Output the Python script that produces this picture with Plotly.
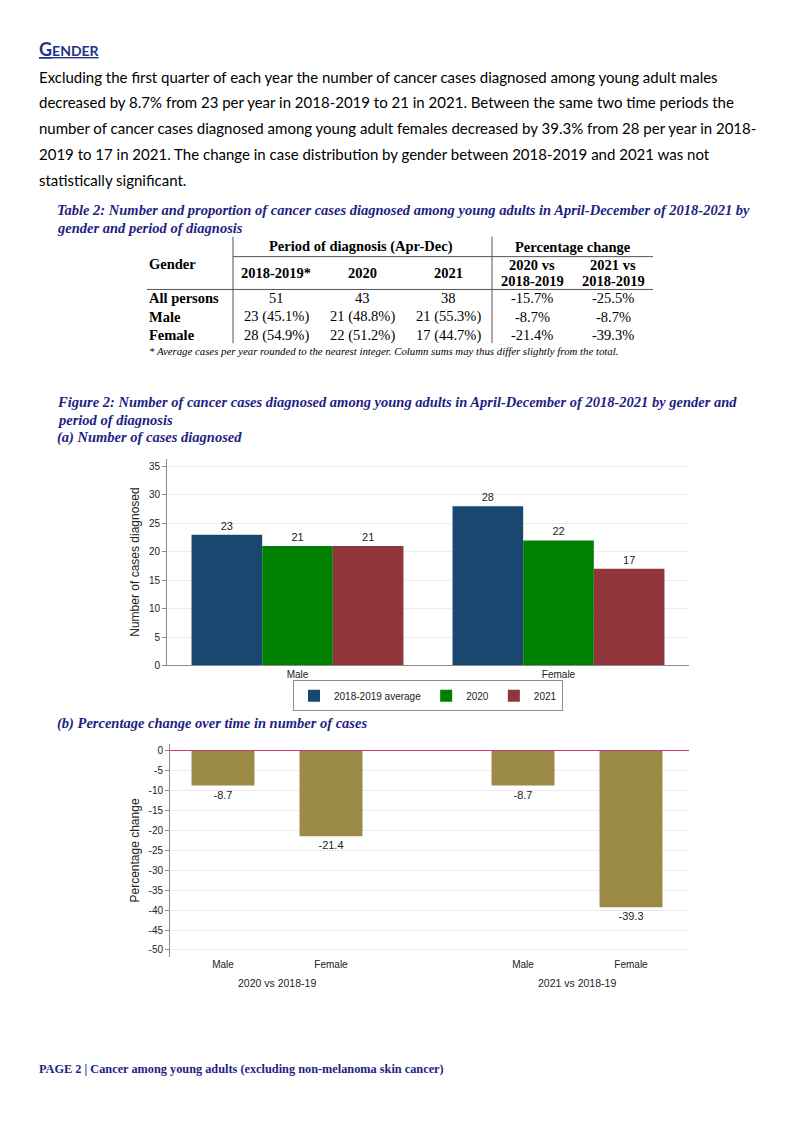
import plotly.graph_objects as go

W, H = 800, 1130


def px(x):
    return x / W


def py(y):
    return 1 - y / H


# ---- data ----
genders = ["Male", "Female"]
period_names = ["2018-2019 average", "2020", "2021"]
cases_1819 = [23, 28]
cases_2020 = [21, 22]
cases_2021 = [21, 17]

comparisons = ["2020 vs 2018-19", "2021 vs 2018-19"]
pct_2020_vs_1819 = [-8.7, -21.4]
pct_2021_vs_1819 = [-8.7, -39.3]

table_rows = ["All persons", "Male", "Female"]
tbl_1819 = ["51", "23 (45.1%)", "28 (54.9%)"]
tbl_2020 = ["43", "21 (48.8%)", "22 (51.2%)"]
tbl_2021 = ["38", "21 (55.3%)", "17 (44.7%)"]
tbl_chg20 = ["-15.7%", "-8.7%", "-21.4%"]
tbl_chg21 = ["-25.5%", "-8.7%", "-39.3%"]

body_lines = [
    "Excluding the first quarter of each year the number of cancer cases diagnosed among young adult males",
    "decreased by 8.7% from 23 per year in 2018-2019 to 21 in 2021. Between the same two time periods the",
    "number of cancer cases diagnosed among young adult females decreased by 39.3% from 28 per year in 2018-",
    "2019 to 17 in 2021. The change in case distribution by gender between 2018-2019 and 2021 was not",
    "statistically significant.",
]

BLUE = "#1e1e82"
SANS = "Liberation Sans"
SERIF = "Liberation Serif"
BODY = "Lato"

fig = go.Figure()

# ---- figure (a): grouped bars ----
colors = ["#1a476f", "#008000", "#90353b"]
for name, vals, col in zip(period_names, [cases_1819, cases_2020, cases_2021], colors):
    fig.add_trace(go.Bar(
        x=genders, y=vals, name=name, marker_color=col,
        marker_line_width=0,
        text=[str(v) for v in vals], textposition="outside", cliponaxis=False,
        textfont=dict(family=SANS, size=11, color="#222"),
        xaxis="x", yaxis="y",
    ))

# ---- figure (b): percentage change ----
for ax, vals in zip(["x2", "x3"], [pct_2020_vs_1819, pct_2021_vs_1819]):
    fig.add_trace(go.Bar(
        x=genders, y=vals, width=0.583, marker_color="#9a8a46",
        marker_line_width=0, showlegend=False,
        text=["%.1f" % v for v in vals], textposition="outside", cliponaxis=False,
        textfont=dict(family=SANS, size=11, color="#222"),
        xaxis=ax, yaxis="y2",
    ))

tickfont = dict(family=SANS, size=10, color="#222")
axis_common = dict(showline=True, linecolor="#8c8c8c", linewidth=1, tickfont=tickfont)

ticks_a = list(range(0, 40, 5))
ticks_b = list(range(0, -55, -5))

fig.update_layout(
    width=W, height=H,
    margin=dict(l=0, r=0, t=0, b=0),
    paper_bgcolor="white", plot_bgcolor="white",
    barmode="group", bargap=0.188, bargroupgap=0,
    showlegend=True,
    legend=dict(
        orientation="h", x=px(428), xanchor="center", y=py(684), yanchor="top",
        bordercolor="#8c8c8c", borderwidth=1, font=dict(family=SANS, size=10, color="#222"),
        itemwidth=30, tracegroupgap=0,
    ),
    xaxis=dict(domain=[px(167), px(689)], anchor="y", ticks="", **axis_common),
    yaxis=dict(
        domain=[py(669), py(461)], anchor="x", range=[0, 36.4],
        tickvals=ticks_a, ticktext=[str(t) for t in ticks_a],
        ticks="outside", ticklen=4, tickcolor="#8c8c8c",
        showgrid=True, gridcolor="#ececec", zeroline=False,
        title=dict(text="Number of cases diagnosed", font=dict(family=SANS, size=12, color="#222"), standoff=6),
        **axis_common,
    ),
    xaxis2=dict(domain=[px(170), px(427)], anchor="y2", range=[-0.491, 1.889],
                ticks="", showline=False, tickfont=tickfont),
    xaxis3=dict(domain=[px(427), px(689)], anchor="y2", range=[-0.889, 1.537],
                ticks="", showline=False, tickfont=tickfont),
    yaxis2=dict(
        domain=[py(962), py(748)], anchor="x2", range=[-51.75, 1.75],
        tickvals=ticks_b, ticktext=[str(t) for t in ticks_b],
        ticks="outside", ticklen=4, tickcolor="#8c8c8c",
        showgrid=True, gridcolor="#ececec",
        zeroline=True, zerolinecolor="#c83a78", zerolinewidth=1.3,
        title=dict(text="Percentage change", font=dict(family=SANS, size=12, color="#222"), standoff=6),
        **axis_common,
    ),
)

ann = []


def text(x, y, s, size, family, color="#000", anchor="left"):
    ann.append(dict(
        x=px(x), y=py(y), xref="paper", yref="paper", text=s, showarrow=False,
        xanchor=anchor, yanchor="middle", font=dict(family=family, size=size, color=color),
    ))


# heading and body text
text(37, 49, "<b><u>G<span style='font-size:14px'>ENDER</span></u></b>", 18, BODY, "#24348c")
for i, line in enumerate(body_lines):
    text(37, 77 + i * 26, line, 15, BODY)

# table caption
text(55, 211, "<b><i>Table 2: Number and proportion of cancer cases diagnosed among young adults in April-December of 2018-2021 by</i></b>",
     14.5, SERIF, BLUE)
text(55, 229, "<b><i>gender and period of diagnosis</i></b>", 14.5, SERIF, BLUE)

# table headers
text(361, 248, "<b>Period of diagnosis (Apr-Dec)</b>", 14.5, SERIF, anchor="center")
text(573, 248, "<b>Percentage change</b>", 14.5, SERIF, anchor="center")
text(147, 265, "<b>Gender</b>", 14.5, SERIF)
for cx, lab in zip([276, 362, 448], ["2018-2019*", "2020", "2021"]):
    text(cx, 274, "<b>" + lab + "</b>", 14.5, SERIF, anchor="center")
for cx, lab in zip([532, 613], ["2020 vs", "2021 vs"]):
    text(cx, 266, "<b>" + lab + "</b>", 14.5, SERIF, anchor="center")
    text(cx, 282, "<b>2018-2019</b>", 14.5, SERIF, anchor="center")

# table body
for r, row in enumerate(table_rows):
    y = 300 + r * 18.5
    text(147, y, "<b>" + row + "</b>", 14.5, SERIF)
    for cx, col in zip([276, 362, 448, 532, 613], [tbl_1819, tbl_2020, tbl_2021, tbl_chg20, tbl_chg21]):
        text(cx, y, col[r], 14.5, SERIF, anchor="center")
text(147, 353, "<i>* Average cases per year rounded to the nearest integer. Column sums may thus differ slightly from the total.</i>",
     10.8, SERIF)

# table rules
rules = [
    (233, 238, 233, 345), (492, 238, 492, 345),
    (233, 258, 653, 258), (147, 291, 653, 291),
]
shapes = []
for x0, y0, x1, y1 in rules:
    shapes.append(dict(type="line", xref="paper", yref="paper", x0=px(x0), y0=py(y0), x1=px(x1), y1=py(y1),
                       line=dict(color="#555", width=1)))

# figure captions
text(55, 404, "<b><i>Figure 2: Number of cancer cases diagnosed among young adults in April-December of 2018-2021 by gender and</i></b>",
     14.5, SERIF, BLUE)
text(55, 422, "<b><i>period of diagnosis</i></b>", 14.5, SERIF, BLUE)
text(55, 440, "<b><i>(a) Number of cases diagnosed</i></b>", 14.5, SERIF, BLUE)
text(55, 727, "<b><i>(b) Percentage change over time in number of cases</i></b>", 14.5, SERIF, BLUE)

# group labels of figure (b)
for cx, lab in zip([277, 577], comparisons):
    text(cx, 988, lab, 10.5, SANS, "#222", anchor="center")

# footer
text(37, 1075, "<b>PAGE 2 | Cancer among young adults (excluding non-melanoma skin cancer)</b>", 12.3, SERIF, BLUE)

fig.update_layout(annotations=ann, shapes=shapes)

# drop the default page margin and any scroll overflow so the figure fills the window exactly
page_fix = (
    "document.body.style.margin='0px';"
    "document.body.style.overflow='hidden';"
    "document.documentElement.style.overflow='hidden';"
    "document.body.style.height='1130px';"
)
fig.write_html("out.html", config={"displayModeBar": False}, post_script=page_fix)
